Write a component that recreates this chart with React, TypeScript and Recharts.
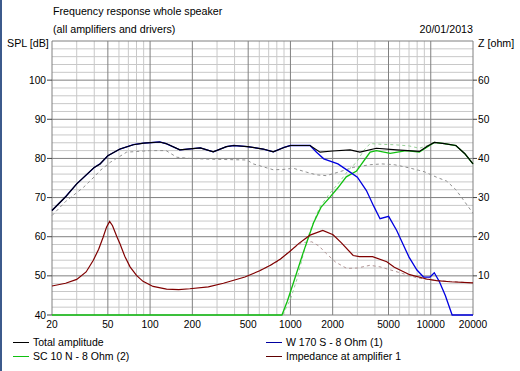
import React from "react";
import { LineChart, Line, XAxis, YAxis, ReferenceLine } from "recharts";

// ---------- data ----------
const xTicks = [20, 50, 100, 200, 500, 1000, 2000, 5000, 10000, 20000];
const xMinor = [30, 40, 60, 70, 80, 90, 300, 400, 600, 700, 800, 900, 3000, 4000, 6000, 7000, 8000, 9000];
const splTicks = [40, 50, 60, 70, 80, 90, 100];
const splMinor = [42, 44, 46, 48, 52, 54, 56, 58, 62, 64, 66, 68, 72, 74, 76, 78, 82, 84, 86, 88, 92, 94, 96, 98, 102, 104, 106, 108];
const splMajor = [40, 50, 60, 70, 80, 90, 100, 110];
const ohmTicks = [10, 20, 30, 40, 50, 60];

const totalFreq = [20, 25, 30, 40, 44, 50, 61, 76, 90, 117, 130, 163, 228, 282, 350, 394, 494, 640, 755, 900, 1000, 1380, 1627, 2000, 2660, 3130, 4100, 5700, 8300, 9500, 10600, 12500, 15100, 17500, 20000];
const totalSpl = [66.7, 70.2, 73.5, 77.7, 78.6, 80.7, 82.4, 83.5, 83.9, 84.2, 83.8, 82.2, 82.7, 81.7, 83.0, 83.3, 83.0, 82.4, 81.7, 82.8, 83.3, 83.3, 81.6, 81.9, 82.2, 81.6, 82.6, 82.2, 81.8, 83.2, 84.1, 83.8, 83.3, 81.2, 78.6];

const wooferFreq = [20, 25, 30, 40, 44, 50, 61, 76, 90, 117, 130, 163, 228, 282, 350, 394, 494, 640, 755, 900, 1000, 1380, 1535, 1728, 2180, 2660, 3000, 3480, 3900, 4350, 5010, 5720, 6320, 7000, 7970, 8880, 9870, 10600, 11530, 12700, 14200, 20000];
const wooferSpl = [66.7, 70.2, 73.5, 77.7, 78.6, 80.7, 82.4, 83.5, 83.9, 84.2, 83.8, 82.2, 82.7, 81.7, 83.0, 83.3, 83.0, 82.4, 81.7, 82.8, 83.3, 83.3, 81.6, 79.9, 78.6, 76.5, 75.2, 71.8, 68.0, 64.6, 65.2, 61.6, 58.2, 54.8, 51.5, 49.7, 49.7, 50.8, 48.5, 45.0, 40, 40];

const tweeterFreq = [20, 870, 950, 1045, 1235, 1460, 1650, 1900, 2180, 2500, 2960, 3200, 3480, 3700, 4100, 5140, 6700, 8280, 9500, 10600, 12500, 15100, 17500, 20000];
const tweeterSpl = [40, 40, 43.5, 48, 56, 63.5, 67.5, 70, 72.5, 75.3, 76.8, 78.5, 80.3, 81.6, 82.0, 81.3, 82.0, 81.6, 83.0, 84.1, 83.8, 83.3, 81.2, 78.6];

const impFreq = [20, 25, 30, 35, 39.4, 43, 46.2, 49, 51.5, 54, 58, 61, 66, 72, 80, 89, 105, 131, 160, 192, 260, 333, 474, 604, 720, 850, 994, 1150, 1380, 1700, 2014, 2300, 2800, 3100, 3850, 4860, 5500, 7080, 9340, 11000, 13700, 20000];
const impOhm = [7.4, 8.1, 9.1, 11.0, 14.0, 16.8, 19.8, 22.5, 23.9, 22.8, 20.0, 18.2, 15.0, 12.3, 10.1, 8.6, 7.3, 6.6, 6.5, 6.7, 7.2, 8.1, 9.7, 11.3, 12.7, 14.3, 16.3, 18.3, 20.4, 21.6, 20.5, 18.5, 15.2, 14.9, 14.9, 13.6, 12.2, 10.3, 9.2, 8.8, 8.5, 8.2];

// dashed reference curves (not in legend)
const refWooferFreq = [20, 25, 33.5, 40, 44, 52, 68, 100, 130, 155, 192, 267, 490, 544, 755, 900, 1045, 1300, 1535, 1800, 2200, 2800, 3700, 4500, 5500, 7000, 9000, 11000, 13000, 15100, 17000, 20000];
const refWooferSpl = [65.4, 69.0, 72.6, 75.3, 76.9, 79.0, 81.6, 82.0, 82.0, 80.3, 80.0, 79.8, 79.6, 78.6, 77.1, 77.2, 77.5, 76.5, 75.8, 75.6, 76.5, 77.7, 78.4, 78.6, 78.4, 77.6, 76.6, 75.2, 74.2, 72.0, 69.5, 66.0];

const refTweeterFreq = [880, 1000, 1110, 1235, 1380, 1620, 1900, 2180, 2660, 2960, 3320, 3700, 4500, 5500, 7000, 8300, 9500, 10600, 12500, 15100, 17500, 20000];
const refTweeterSpl = [40, 44, 49, 55.5, 61.5, 67.6, 71, 73.5, 77.5, 79, 82, 83.8, 83.6, 83.5, 83.2, 82.6, 83.3, 84.1, 83.8, 83.3, 81.2, 78.6];

const refImpFreq = [600, 800, 1000, 1200, 1420, 1600, 1800, 2100, 2520, 3000, 3690, 4350, 6300, 8000, 9340, 11000, 20000];
const refImpOhm = [11.3, 13.5, 16.5, 18.5, 18.7, 17.6, 15.7, 13.5, 11.9, 12.0, 12.7, 12.3, 10.6, 9.5, 9.1, 8.8, 8.2];

const zip = (fs: number[], vs: number[]) => fs.map((f, i) => ({ f, v: vs[i] }));

const totalData = zip(totalFreq, totalSpl);
const wooferData = zip(wooferFreq, wooferSpl);
const tweeterData = zip(tweeterFreq, tweeterSpl);
const impData = zip(impFreq, impOhm);
const refWooferData = zip(refWooferFreq, refWooferSpl);
const refTweeterData = zip(refTweeterFreq, refTweeterSpl);
const refImpData = zip(refImpFreq, refImpOhm);

const FONT = "'Liberation Sans', Arial, sans-serif";
const MINOR = "#c8c8c8";
const MAJOR = "#808080";

const txt: React.CSSProperties = {
  position: "absolute",
  fontFamily: FONT,
  fontSize: 10.7,
  lineHeight: "13px",
  color: "#000",
  whiteSpace: "nowrap",
};

const tickStyle = { fontSize: 10.2, fontFamily: FONT, fill: "#000" };

const LegendItem = ({ left, top, color, label }: { left: number; top: number; color: string; label: string }) => (
  <div style={{ ...txt, fontSize: 10.5, left, top }}>
    <span style={{ display: "inline-block", width: 16, height: 1, background: color, verticalAlign: "middle", marginRight: 4, marginBottom: 2 }} />
    {label}
  </div>
);

const RL: any = ReferenceLine;

export default function App() {
  return (
    <div style={{ position: "absolute", left: 0, top: 0, width: 520, height: 371, background: "#fff", overflow: "hidden" }}>
      <div style={{ position: "absolute", left: 0, top: 0, width: 2, height: 371, background: "#3c5a8c" }} />
      <div style={{ ...txt, left: 53, top: 5 }}>Frequency response whole speaker</div>
      <div style={{ ...txt, left: 53, top: 23 }}>(all amplifiers and drivers)</div>
      <div style={{ ...txt, right: 47, top: 23 }}>20/01/2013</div>
      <div style={{ ...txt, left: 7, top: 37 }}>SPL [dB]</div>
      <div style={{ ...txt, left: 478, top: 37 }}>Z [ohm]</div>

      <div style={{ position: "absolute", left: 0, top: 0 }}>
        <LineChart width={520} height={371} margin={{ top: 41, right: 0, bottom: 36, left: 0 }}>
          <XAxis
            dataKey="f"
            type="number"
            scale="log"
            domain={[20, 20000]}
            ticks={xTicks}
            tickLine={false}
            tickSize={0}
            tickMargin={6}
            height={20}
            axisLine={false}
            tick={tickStyle}
          />
          <YAxis
            yAxisId="spl"
            orientation="left"
            type="number"
            domain={[40, 110]}
            ticks={splTicks}
            width={52}
            tickSize={5}
            tickMargin={1}
            axisLine={false}
            tickLine={{ stroke: "#404040" }}
            tick={tickStyle}
          />
          <YAxis
            yAxisId="z"
            orientation="right"
            type="number"
            domain={[0, 70]}
            ticks={ohmTicks}
            width={47}
            tickSize={4}
            tickMargin={1}
            axisLine={false}
            tickLine={{ stroke: "#404040" }}
            tick={{ ...tickStyle, textAnchor: "start" }}
          />

          {splMinor.map((v) => (
            <RL key={"hm" + v} zIndex={-60} yAxisId="spl" y={v} stroke={MINOR} strokeWidth={1} />
          ))}
          {xMinor.map((f) => (
            <RL key={"vm" + f} zIndex={-60} yAxisId="spl" x={f} stroke={MINOR} strokeWidth={1} />
          ))}
          {splMajor.map((v) => (
            <RL key={"hM" + v} zIndex={-50} yAxisId="spl" y={v} stroke={MAJOR} strokeWidth={1} />
          ))}
          {xTicks.map((f) => (
            <RL key={"vM" + f} zIndex={-50} yAxisId="spl" x={f} stroke={MAJOR} strokeWidth={1} />
          ))}

          <Line yAxisId="spl" data={refWooferData} dataKey="v" stroke="#909090" strokeDasharray="3 3" strokeWidth={1} dot={false} isAnimationActive={false} />
          <Line yAxisId="spl" data={refTweeterData} dataKey="v" stroke="#98d098" strokeDasharray="3 3" strokeWidth={1} dot={false} isAnimationActive={false} />
          <Line yAxisId="z" data={refImpData} dataKey="v" stroke="#b09494" strokeDasharray="3 3" strokeWidth={1} dot={false} isAnimationActive={false} />

          <Line yAxisId="spl" data={tweeterData} dataKey="v" stroke="#10c010" strokeWidth={1.3} dot={false} isAnimationActive={false} />
          <Line yAxisId="spl" data={wooferData} dataKey="v" stroke="#0000e0" strokeWidth={1.3} dot={false} isAnimationActive={false} />
          <Line yAxisId="spl" data={totalData} dataKey="v" stroke="#000000" strokeWidth={1.2} dot={false} isAnimationActive={false} />
          <Line yAxisId="z" data={impData} dataKey="v" stroke="#800000" strokeWidth={1.2} dot={false} isAnimationActive={false} />
        </LineChart>
      </div>

      <LegendItem left={13} top={336} color="#000000" label="Total amplitude" />
      <LegendItem left={13} top={350} color="#10c010" label="SC 10 N - 8 Ohm (2)" />
      <LegendItem left={266} top={336} color="#0000a0" label="W 170 S - 8 Ohm (1)" />
      <LegendItem left={266} top={350} color="#600000" label="Impedance at amplifier 1" />
    </div>
  );
}
